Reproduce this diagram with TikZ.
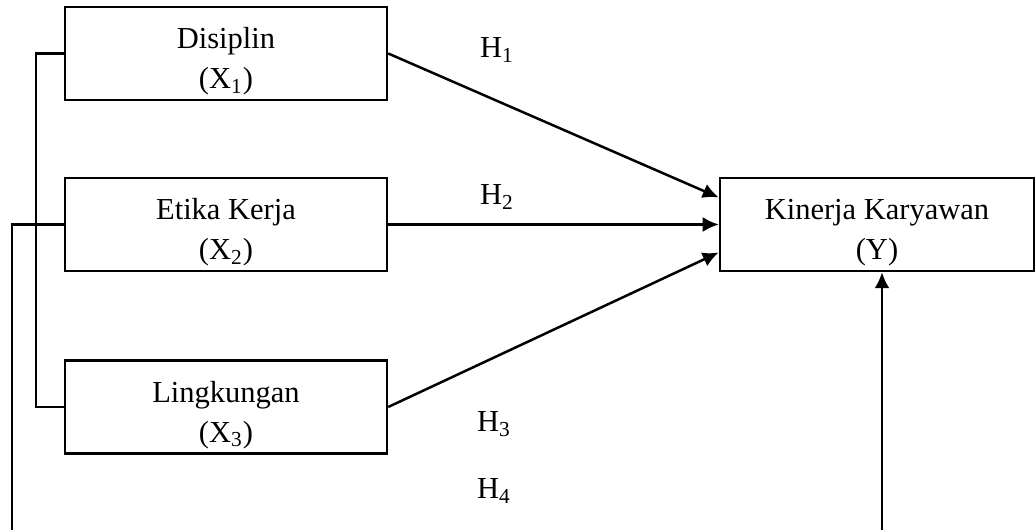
\documentclass[tikz,border=0pt]{standalone}
\usepackage{fontspec}
\setmainfont{Liberation Serif}
\usetikzlibrary{arrows.meta,calc}

\newcommand{\topstrut}{\rule{0pt}{15pt}}
\tikzset{
  varbox/.style={draw, line width=1pt, minimum width=128.8pt, minimum height=37.2pt,
    align=center, font=\fontsize{12.2}{16}\selectfont, inner sep=0pt},
  hyp/.style={font=\fontsize{12.2}{14}\selectfont},
  link/.style={line width=0.9pt},
  path/.style={line width=1pt, -{Latex[length=6.4pt,width=6pt]}}
}

\begin{document}
\begin{tikzpicture}[x=0.4pt, y=-0.4pt]
  \useasboundingbox (0,0) rectangle (1036,530);
  \node [varbox] (X1) at (226, 53.5) {\topstrut Disiplin\\(X\textsubscript{1})};
  \node [varbox] (X2) at (226, 224.5) {\topstrut Etika Kerja\\(X\textsubscript{2})};
  \node [varbox] (X3) at (226, 407) {\topstrut Lingkungan\\(X\textsubscript{3})};
  \node [varbox, minimum width=125.6pt] (Y) at (877, 224.5) {\topstrut Kinerja Karyawan\\(Y)};
  \node [hyp] (H1) at (497, 50) {H\textsubscript{1}};
  \node [hyp] (H2) at (497, 197) {H\textsubscript{2}};
  \node [hyp] (H3) at (494, 424) {H\textsubscript{3}};
  \node [hyp] (H4) at (494, 491) {H\textsubscript{4}};
  \coordinate (xbot) at (12, 530);
  \coordinate (ybot) at (882, 530);
  % partial paths
  \draw [path] (X1.east) -- ($(Y.west)+(0,-27)$);
  \draw [path] (X2.east) -- (Y.west);
  \draw [path] (X3.east) -- ($(Y.west)+(0,28)$);
  % joint path
  \draw [link] (X1.west) -- ++(-28,0) |- (X3.west);
  \draw [link] (X2.west) -| (xbot);
  \draw [path] (ybot) -- (ybot |- Y.south);
\end{tikzpicture}
\end{document}
